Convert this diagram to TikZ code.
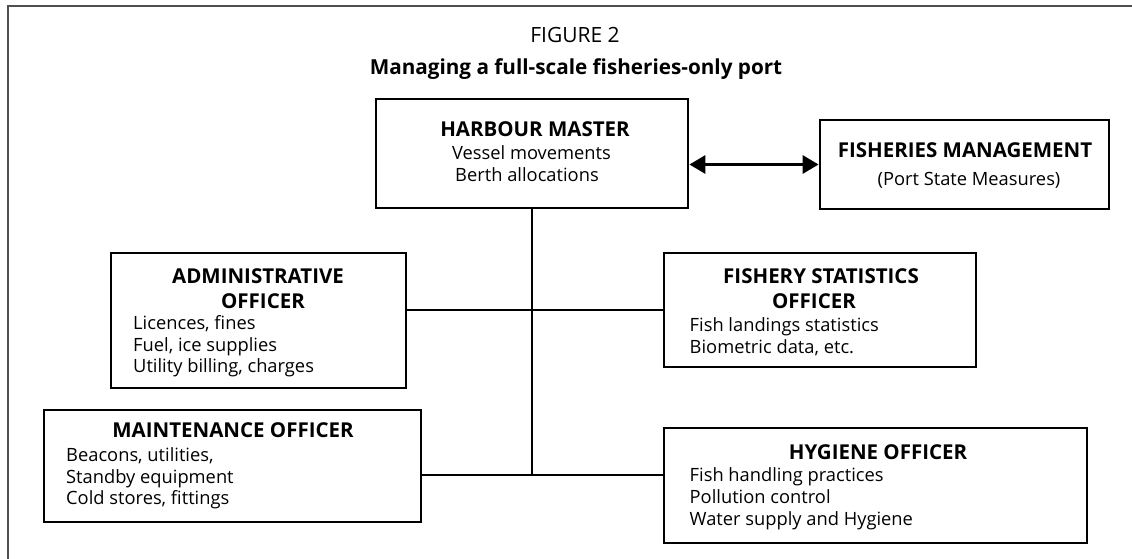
\documentclass[tikz,border=0pt]{standalone}
\usepackage{fontspec}
\setmainfont{Open Sans}
\usetikzlibrary{arrows.meta}
\definecolor{framegrey}{HTML}{505050}
\tikzset{
  box/.style={draw=black, line width=2.8pt, inner sep=0pt, fill=none},
  conn/.style={draw=black, line width=1.8pt},
  dbl/.style={draw=black, line width=3.2pt, {Triangle[length=16pt,width=18pt]}-{Triangle[length=16pt,width=18pt]}},
  head/.style={font=\fontsize{20.5}{24}\selectfont\bfseries, inner sep=0pt, anchor=base},
  item/.style={font=\fontsize{18.3}{22}\selectfont, inner sep=0pt, anchor=base west},
  itemc/.style={font=\fontsize{18.3}{22}\selectfont, inner sep=0pt, anchor=base},
}
\begin{document}
\begin{tikzpicture}[x=1pt,y=-1pt]
\useasboundingbox (0,0) rectangle (1132,559);
\fill[white] (0,0) rectangle (1132,559);
\draw[framegrey, line width=1.4pt] (8,559) -- (8,6) -- (1132,6);

\node[font=\fontsize{21}{25}\selectfont, inner sep=0pt, anchor=base] (fig) at (575,42.5) {FIGURE 2};
\node[font=\fontsize{20.7}{25}\selectfont\bfseries, inner sep=0pt, anchor=base] (sub) at (576,75) {Managing a full-scale fisheries-only port};

% boxes
\node[box, minimum width=312pt, minimum height=109pt] (hm) at (532,153.5) {};
\node[box, minimum width=289pt, minimum height=89pt] (fm) at (964.5,164.5) {};
\node[box, minimum width=295pt, minimum height=135pt] (adm) at (258.5,320.5) {};
\node[box, minimum width=312pt, minimum height=114pt] (fst) at (820,310) {};
\node[box, minimum width=377pt, minimum height=112pt] (mnt) at (232.5,466) {};
\node[box, minimum width=423pt, minimum height=115pt] (hyg) at (875.5,485.5) {};

% harbour master text
\node[head] (hmh) at (535,137) {HARBOUR MASTER};
\node[itemc] (hm1) at (531.5,160) {Vessel movements};
\node[itemc] (hm2) at (527,181.5) {Berth allocations};

% fisheries management text
\node[head] (fmh) at (965,157.5) {FISHERIES MANAGEMENT};
\node[itemc] (fm1) at (969,185) {(Port State Measures)};

% administrative
\node[head] (admh1) at (258,283.5) {ADMINISTRATIVE};
\node[head] (admh2) at (263,308.5) {OFFICER};
\node[item] (adm1) at (133,329.5) {Licences, fines};
\node[item] (adm2) at (133,351) {Fuel, ice supplies};
\node[item] (adm3) at (133,372.5) {Utility billing, charges};

% fishery statistics
\node[head] (fsth1) at (821,283.5) {FISHERY STATISTICS};
\node[head] (fsth2) at (814,308.5) {OFFICER};
\node[item] (fst1) at (689.5,331.5) {Fish landings statistics};
\node[item] (fst2) at (689.5,353.5) {Biometric data, etc.};

% maintenance
\node[head] (mnth) at (233,437.5) {MAINTENANCE OFFICER};
\node[item] (mnt1) at (66,461.5) {Beacons, utilities,};
\node[item] (mnt2) at (66,483) {Standby equipment};
\node[item] (mnt3) at (66,504.5) {Cold stores, fittings};

% hygiene
\node[head] (hygh) at (878,459.5) {HYGIENE OFFICER};
\node[item] (hyg1) at (689.5,481.5) {Fish handling practices};
\node[item] (hyg2) at (689.5,503.5) {Pollution control};
\node[item] (hyg3) at (689.5,525.5) {Water supply and Hygiene};

% connectors
\coordinate (jlow) at (532,475);
\draw[conn] (hm.south) -- (jlow);
\draw[conn] (adm.east |- fst.west) -- (fst.west);
\draw[conn] (mnt.east |- jlow) -- (hyg.west |- jlow);
\draw[dbl] (hm.east |- fm.west) -- (fm.west);
\end{tikzpicture}
\end{document}
